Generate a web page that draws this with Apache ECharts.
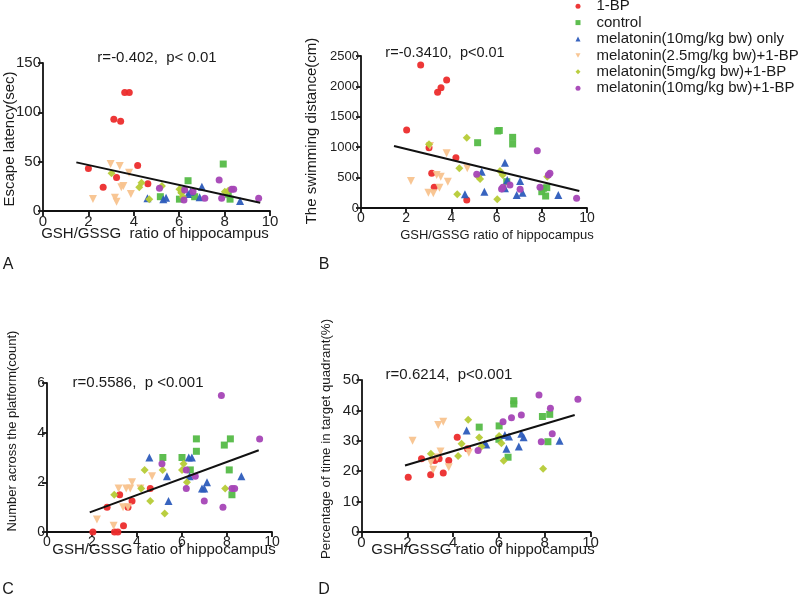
<!DOCTYPE html>
<html><head><meta charset="utf-8">
<script src="https://cdn.jsdelivr.net/npm/echarts@6/dist/echarts.min.js"></script>
<style>html,body{margin:0;padding:0;background:#fff}#c{width:800px;height:606px}</style>
</head><body><div id="c"></div>
<script>
const groupNames = ['1-BP','control','melatonin(10mg/kg bw) only','melatonin(2.5mg/kg bw)+1-BP','melatonin(5mg/kg bw)+1-BP','melatonin(10mg/kg bw)+1-BP'];
const xTicks = [0,2,4,6,8,10];

// Panel A: escape latency (sec)
const escape_1BP = [[2.0,43],[2.65,24],[3.12,93],[3.42,91],[3.6,120],[3.8,120],[3.24,34],[4.17,46],[4.62,27.5]];
const escape_control = [[5.17,14.5],[6.01,12],[6.39,30.7],[6.68,14.5],[7.94,47.6],[8.16,17],[8.24,12],[6.1,21]];
const escape_mel10only = [[4.6,12.8],[5.3,12],[5.42,13.5],[6.39,17.2],[6.5,19.6],[6.9,13.9],[7.0,24.6],[8.68,10.1]];
const escape_mel25 = [[2.2,12.2],[2.98,47.6],[3.17,13.5],[3.24,9.4],[3.38,45.6],[3.45,24],[3.54,25.3],[3.79,38.8],[3.87,17.2]];
const escape_mel5 = [[3.02,38.2],[4.24,24],[4.34,28.7],[4.68,11.9],[5.24,25.3],[6.01,22],[6.09,18.5],[6.16,14.5],[8.01,19.6],[8.16,20.5]];
const escape_mel10 = [[5.13,23],[6.21,11.1],[6.24,21.3],[6.61,19.6],[7.13,12.8],[7.76,31.4],[7.87,12.8],[8.31,22],[8.4,22],[9.5,12.8]];
const escape_fit = [[1.47,49.3],[9.57,8.4]];

// Panel B: swimming distance (cm)
const swim_1BP = [[2.64,2352],[3.79,2105],[3.54,1979],[3.39,1902],[2.02,1283],[3.01,992],[4.2,828],[3.13,570],[3.24,340],[4.68,132]];
const swim_control = [[6.05,1266],[6.12,1275],[5.16,1074],[6.71,1162],[6.71,1053],[8.07,324],[8.22,334],[8.0,268],[8.17,197],[6.45,433]];
const swim_mel10only = [[6.37,745],[5.34,597],[4.6,225],[5.46,268],[6.37,324],[7.04,444],[6.89,214],[7.15,252],[8.73,214],[6.47,460]];
const swim_mel25 = [[3.05,1020],[3.79,899],[2.21,444],[3.35,543],[3.53,515],[3.84,433],[3.47,334],[2.98,252],[3.2,241],[4.7,653]];
const swim_mel5 = [[3.01,1047],[4.68,1157],[4.35,653],[5.19,515],[5.27,477],[4.26,225],[6.03,143],[6.15,608],[6.27,543],[8.24,515]];
const swim_mel10 = [[5.12,554],[6.22,312],[6.28,340],[6.59,378],[7.04,307],[7.8,942],[8.36,570],[8.29,543],[7.92,340],[9.54,159]];
const swim_fit = [[1.46,1020],[9.66,280]];

// Panel C: number across the platform (count)
const cross_1BP = [[2.04,0],[3.0,0],[3.15,0],[3.4,0.25],[2.67,1.0],[3.23,1.5],[3.6,1.0],[3.78,1.25],[4.59,1.75]];
const cross_control = [[5.15,3.0],[6.0,3.0],[6.64,3.75],[6.64,3.25],[6.37,2.5],[7.88,3.5],[8.15,3.75],[8.1,2.5],[8.22,1.5]];
const cross_mel10only = [[4.55,3.0],[5.33,2.25],[5.4,1.25],[6.3,3.0],[6.44,3.0],[6.34,2.25],[7.11,2.0],[6.89,1.75],[6.99,1.75],[8.64,2.25]];
const cross_mel25 = [[2.22,0.5],[2.96,0.25],[3.78,2.0],[3.18,1.75],[3.52,1.75],[3.7,1.75],[4.15,1.75],[3.38,1.0],[4.67,2.25],[3.6,1.0]];
const cross_mel5 = [[2.99,1.5],[4.34,2.5],[5.14,2.5],[4.59,1.25],[5.23,0.75],[6.0,2.5],[6.07,2.75],[6.22,2.0],[7.92,1.75],[4.19,1.75]];
const cross_mel10 = [[5.11,2.75],[6.19,2.5],[6.19,1.75],[6.59,2.25],[6.99,1.25],[7.75,5.5],[7.82,1.0],[8.22,1.75],[8.34,1.75],[9.45,3.75]];
const cross_fit = [[1.9,0.79],[9.41,3.29]];

// Panel D: percentage of time in target quadrant (%)
const pct_1BP = [[2.04,18.0],[2.62,24.1],[3.02,18.8],[3.2,23.5],[3.39,24.1],[3.57,19.4],[3.81,23.5],[4.18,31.2],[4.63,27.4]];
const pct_control = [[5.14,34.5],[6.01,34.9],[6.65,43.2],[6.65,42.1],[6.4,24.6],[7.9,38.0],[8.22,38.7],[8.14,29.7],[6.0,30.5]];
const pct_mel10only = [[4.59,33.4],[5.38,29.0],[5.45,28.8],[6.26,31.9],[6.44,31.4],[6.33,27.4],[6.87,28.1],[6.98,32.3],[7.08,31.2],[8.65,30.0]];
const pct_mel25 = [[2.23,30.0],[3.35,35.2],[3.57,36.3],[3.03,22.9],[3.13,20.5],[3.45,26.5],[3.81,21.3],[4.69,26.1],[3.3,24.5]];
const pct_mel5 = [[3.03,25.7],[4.66,36.9],[4.37,29.0],[4.22,25.0],[5.14,31.1],[5.24,28.1],[6.01,31.6],[6.11,29.2],[6.21,23.4],[7.93,20.8]];
const pct_mel10 = [[5.09,26.8],[6.18,36.3],[6.55,37.6],[6.98,38.5],[7.75,45.1],[7.85,29.7],[8.25,40.7],[8.33,32.3],[9.45,43.7]];
const pct_fit = [[1.9,21.9],[9.31,38.5]];

const yMax = [150, 2500, 6, 50];
const yInterval = [50, 500, 2, 10];

const FONT = 'Liberation Sans, Arial, Helvetica, sans-serif';
const colors = ['#ec2c2c','#55bb47','#2d5cbc','#f8c38e','#b6cb36','#a544b6'];
const symbols = ['circle','rect','triangle','triangle','diamond','circle'];
const legendIcons = ['circle','rect','triangle','path://M0,0L10,0L5,9Z','diamond','circle'];
const rot = [0,0,0,180,0,0];
const sizes = [7,7,8,8,8,7];

const panels = [
  {groups:[escape_1BP,escape_control,escape_mel10only,escape_mel25,escape_mel5,escape_mel10], fit:escape_fit},
  {groups:[swim_1BP,swim_control,swim_mel10only,swim_mel25,swim_mel5,swim_mel10], fit:swim_fit},
  {groups:[cross_1BP,cross_control,cross_mel10only,cross_mel25,cross_mel5,cross_mel10], fit:cross_fit},
  {groups:[pct_1BP,pct_control,pct_mel10only,pct_mel25,pct_mel5,pct_mel10], fit:pct_fit}
];

const grids = [
  {left:43, top:63, width:227, height:148},
  {left:361, top:56, width:226, height:152},
  {left:47, top:383, width:225, height:149},
  {left:361.5, top:380, width:229, height:152}
];
const yLabelSize = [15,13,14,15];
const xLabelSize = [15,14,14,15];

const axisLine = {lineStyle:{color:'#111', width:1.8}};
const axisTick = {show:true, inside:false, length:5, lineStyle:{color:'#111', width:1.8}};

const xAxis = grids.map((g,i)=>({
  type:'value', gridIndex:i, min:0, max:10, interval:2,
  axisLine:Object.assign({onZero:false}, axisLine), axisTick, splitLine:{show:false},
  axisLabel:{color:'#222', fontSize:xLabelSize[i], fontFamily:FONT, margin:3, formatter:v=>String(v)}
}));
const yAxis = grids.map((g,i)=>({
  type:'value', gridIndex:i, min:0, max:yMax[i], interval:yInterval[i],
  axisLine:Object.assign({show:true, onZero:false}, axisLine), axisTick, splitLine:{show:false},
  axisLabel:{color:'#222', fontSize:yLabelSize[i], fontFamily:FONT, margin:2, formatter:v=>String(v)}
}));

const series = [];
panels.forEach((p,pi)=>{
  p.groups.forEach((d,gi)=>{
    series.push({type:'scatter', name:groupNames[gi], xAxisIndex:pi, yAxisIndex:pi, data:d,
      symbol:symbols[gi], symbolRotate:rot[gi], symbolSize:sizes[gi],
      itemStyle:{color:colors[gi], opacity:0.95}, emphasis:{disabled:true}});
  });
  series.push({type:'line', name:'fit'+pi, xAxisIndex:pi, yAxisIndex:pi, data:p.fit,
    symbol:'none', lineStyle:{color:'#111', width:2}, silent:true, z:5});
});

function txt(text, x, y, size, opts){
  return Object.assign({type:'text', x:x, y:y, style:{text:text, x:0, y:0, align:'center', verticalAlign:'middle',
    font: size+'px '+FONT, fill:'#1a1a1a'}}, opts||{});
}
const graphic = [
  txt('r=-0.402,  p< 0.01', 157, 58, 15),
  txt('r=-0.3410,  p<0.01', 445, 53, 14.5),
  txt('r=0.5586,  p <0.001', 138, 383, 15),
  txt('r=0.6214,  p<0.001', 449, 375, 15),
  txt('GSH/GSSG  ratio of hippocampus', 155, 234, 15),
  txt('GSH/GSSG ratio of hippocampus', 497, 235, 13),
  txt('GSH/GSSG ratio of hippocampus', 164, 550, 15),
  txt('GSH/GSSG ratio of hippocampus', 483, 550, 15),
  txt('Escape latency(sec)', 10, 139, 15, {rotation:Math.PI/2}),
  txt('The swimming distance(cm)', 312, 131, 15, {rotation:Math.PI/2}),
  txt('Number across the platform(count)', 12, 431, 13, {rotation:Math.PI/2}),
  txt('Percentage of time in target quadrant(%)', 326, 439, 13.3, {rotation:Math.PI/2}),
  txt('A', 8, 265, 16),
  txt('B', 324, 265, 16),
  txt('C', 8, 590, 16),
  txt('D', 324, 590, 16)
];

const chart = echarts.init(document.getElementById('c'), null, {renderer:'canvas'});
chart.setOption({
  animation:false,
  backgroundColor:'#fff',
  grid:grids,
  xAxis, yAxis, series, graphic,
  legend:{data:groupNames.map((n,i)=>({name:n, icon:legendIcons[i]})), orient:'vertical', left:575.5, top:-2, padding:0, itemGap:0,
    itemWidth:5, itemHeight:5, selectedMode:false,
    textStyle:{fontSize:15, lineHeight:16.4, fontFamily:FONT, color:'#1a1a1a', padding:[0,0,0,11]}}
});
</script></body></html>
